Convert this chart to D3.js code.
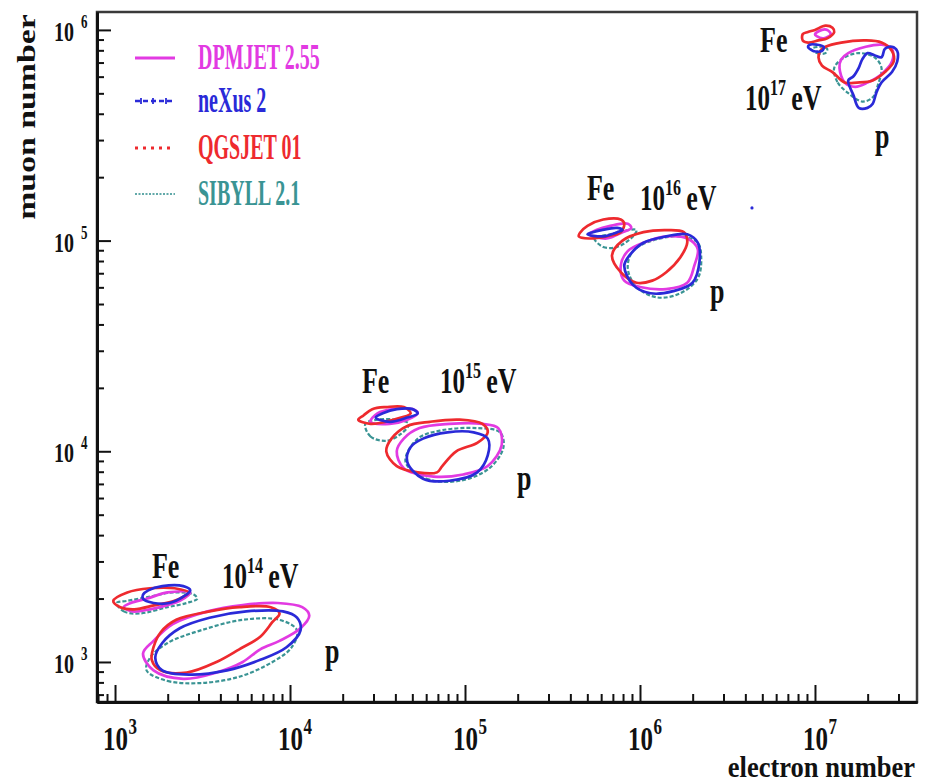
<!DOCTYPE html>
<html>
<head>
<meta charset="utf-8">
<script src="https://cdn.jsdelivr.net/npm/d3@7"></script>
<style>
  body { margin: 0; background: #fff; }
  svg { display: block; }
  text { font-family: "Liberation Serif", "Times New Roman", serif; font-weight: bold; }
</style>
</head>
<body>
<svg id="chart" width="931" height="781"></svg>
<script>
// Hadronic interaction models and their line colours
const models = ["DPMJET 2.55", "neXus 2", "QGSJET 01", "SIBYLL 2.1"];
const modelColors = ["#e23ae2", "#2a2ad8", "#ee2a2e", "#3a9494"];

// Contour points: [log10(electron number), log10(muon number)]
// 10^14 eV, proton
const p14_DPMJET = [[3.16,3.04],[3.22,2.96],[3.39,2.92],[3.58,2.95],[3.73,3.00],[3.83,3.06],[3.94,3.10],[4.06,3.16],[4.11,3.22],[4.07,3.26],[3.93,3.28],[3.73,3.27],[3.53,3.24],[3.33,3.18],[3.22,3.10]];
const p14_NEXUS  = [[3.23,3.02],[3.27,2.96],[3.43,2.94],[3.64,2.96],[3.83,3.01],[3.98,3.07],[4.06,3.15],[4.04,3.21],[3.96,3.24],[3.75,3.24],[3.54,3.21],[3.37,3.16],[3.27,3.09]];
const p14_QGSJET = [[3.22,3.07],[3.21,3.01],[3.26,2.96],[3.41,2.95],[3.58,3.00],[3.71,3.06],[3.83,3.12],[3.90,3.19],[3.94,3.23],[3.89,3.26],[3.71,3.26],[3.54,3.24],[3.35,3.20],[3.26,3.14]];
const p14_SIBYLL = [[3.18,2.96],[3.30,2.91],[3.49,2.90],[3.71,2.93],[3.90,3.00],[4.01,3.07],[4.04,3.15],[3.94,3.20],[3.73,3.20],[3.49,3.15],[3.30,3.09],[3.20,3.02]];
// 10^14 eV, iron
const fe14_DPMJET = [[3.05,3.26],[3.10,3.24],[3.20,3.25],[3.30,3.27],[3.37,3.29],[3.43,3.33],[3.30,3.33],[3.18,3.30],[3.09,3.28]];
const fe14_NEXUS  = [[3.16,3.30],[3.22,3.28],[3.31,3.28],[3.39,3.31],[3.43,3.34],[3.39,3.36],[3.27,3.36],[3.19,3.34],[3.16,3.32]];
const fe14_QGSJET = [[2.99,3.29],[3.03,3.26],[3.11,3.25],[3.23,3.27],[3.34,3.29],[3.42,3.33],[3.34,3.35],[3.20,3.35],[3.07,3.33]];
const fe14_SIBYLL = [[3.01,3.28],[3.05,3.24],[3.14,3.23],[3.30,3.26],[3.41,3.28],[3.47,3.30],[3.45,3.32],[3.33,3.33],[3.20,3.31],[3.07,3.29]];
// 10^15 eV, proton
const p15_DPMJET = [[4.61,4.00],[4.65,3.92],[4.82,3.88],[4.99,3.89],[5.13,3.93],[5.21,4.03],[5.19,4.11],[5.10,4.13],[4.91,4.13],[4.74,4.11],[4.65,4.06]];
const p15_NEXUS  = [[4.67,3.95],[4.76,3.87],[4.91,3.86],[5.07,3.90],[5.13,3.98],[5.13,4.06],[5.05,4.09],[4.90,4.09],[4.76,4.06],[4.69,4.02]];
const p15_QGSJET = [[4.55,4.00],[4.61,3.93],[4.73,3.90],[4.84,3.90],[4.87,3.93],[4.95,4.00],[5.07,4.04],[5.13,4.09],[5.10,4.13],[4.97,4.15],[4.80,4.14],[4.67,4.12],[4.58,4.06]];
const p15_SIBYLL = [[4.66,3.95],[4.78,3.87],[4.97,3.86],[5.14,3.92],[5.22,4.02],[5.20,4.09],[5.07,4.11],[4.87,4.10],[4.73,4.06]];
// 10^15 eV, iron
const fe15_DPMJET = [[4.46,4.14],[4.57,4.13],[4.67,4.15],[4.73,4.18],[4.70,4.20],[4.59,4.20],[4.50,4.18]];
const fe15_NEXUS  = [[4.49,4.16],[4.57,4.14],[4.67,4.16],[4.73,4.18],[4.70,4.20],[4.61,4.20],[4.53,4.18]];
const fe15_QGSJET = [[4.39,4.15],[4.46,4.13],[4.59,4.15],[4.69,4.18],[4.65,4.21],[4.55,4.21],[4.47,4.20],[4.42,4.17]];
const fe15_SIBYLL = [[4.43,4.13],[4.46,4.07],[4.55,4.05],[4.63,4.08],[4.68,4.13],[4.60,4.15],[4.50,4.15]];
// 10^16 eV, proton
const p16_DPMJET = [[5.89,4.88],[5.91,4.81],[6.00,4.78],[6.15,4.77],[6.27,4.80],[6.31,4.88],[6.33,4.96],[6.27,5.01],[6.15,5.02],[6.02,4.99],[5.93,4.95]];
const p16_NEXUS  = [[5.91,4.88],[5.96,4.79],[6.06,4.75],[6.19,4.76],[6.30,4.80],[6.34,4.90],[6.33,4.99],[6.27,5.03],[6.15,5.02],[6.02,4.99],[5.94,4.93]];
const p16_QGSJET = [[5.84,4.93],[5.89,4.85],[5.98,4.80],[6.07,4.81],[6.15,4.85],[6.23,4.92],[6.27,4.99],[6.25,5.04],[6.15,5.05],[6.02,5.04],[5.90,5.00]];
const p16_SIBYLL = [[5.93,4.87],[5.98,4.78],[6.10,4.73],[6.23,4.75],[6.33,4.82],[6.35,4.92],[6.33,4.99],[6.23,5.02],[6.07,5.00],[5.96,4.95]];
// 10^16 eV, iron
const fe16_DPMJET = [[5.71,5.03],[5.81,5.01],[5.90,5.04],[5.95,5.06],[5.93,5.08],[5.83,5.07],[5.75,5.05]];
const fe16_NEXUS  = [[5.70,5.03],[5.79,5.02],[5.87,5.04],[5.90,5.05],[5.87,5.06],[5.78,5.05],[5.73,5.04]];
const fe16_QGSJET = [[5.65,5.02],[5.71,5.01],[5.81,5.02],[5.89,5.04],[5.91,5.08],[5.89,5.10],[5.79,5.10],[5.70,5.07],[5.66,5.04]];
const fe16_SIBYLL = [[5.74,5.01],[5.79,4.97],[5.87,4.97],[5.96,5.02],[5.98,5.05],[5.93,5.05],[5.83,5.03]];
// 10^17 eV, proton
const p17_DPMJET = [[7.14,5.82],[7.17,5.75],[7.23,5.73],[7.30,5.75],[7.38,5.79],[7.44,5.85],[7.44,5.91],[7.38,5.93],[7.29,5.92],[7.19,5.89],[7.15,5.86]];
const p17_NEXUS  = [[7.19,5.76],[7.22,5.69],[7.25,5.63],[7.30,5.63],[7.33,5.65],[7.35,5.70],[7.38,5.75],[7.44,5.80],[7.47,5.85],[7.47,5.90],[7.44,5.92],[7.40,5.91],[7.38,5.87],[7.34,5.88],[7.30,5.89],[7.27,5.86],[7.25,5.82],[7.22,5.78]];
const p17_QGSJET = [[7.02,5.87],[7.04,5.83],[7.10,5.80],[7.17,5.75],[7.24,5.75],[7.33,5.76],[7.40,5.80],[7.45,5.85],[7.44,5.90],[7.38,5.94],[7.29,5.95],[7.15,5.94],[7.06,5.92],[7.03,5.90]];
const p17_SIBYLL = [[7.11,5.82],[7.13,5.75],[7.19,5.70],[7.27,5.66],[7.33,5.68],[7.36,5.74],[7.38,5.82],[7.34,5.87],[7.25,5.89],[7.17,5.87]];
// 10^17 eV, iron
const fe17_DPMJET = [[7.00,5.98],[7.01,5.97],[7.05,5.96],[7.09,5.98],[7.07,6.00],[7.04,6.00]];
const fe17_NEXUS  = [[6.96,5.92],[6.99,5.90],[7.04,5.90],[7.05,5.92],[7.01,5.93],[6.97,5.93]];
const fe17_QGSJET = [[6.93,5.95],[6.96,5.94],[7.02,5.95],[7.07,5.96],[7.11,5.99],[7.10,6.01],[7.06,6.02],[7.00,6.00],[6.96,5.99],[6.93,5.98]];
const fe17_SIBYLL = [[6.98,5.91],[7.01,5.89],[7.06,5.89],[7.07,5.91],[7.04,5.92]];
// isolated neXus point
const nexusStray = [[6.64, 5.155]];

// Annotation anchors in the same log10 units
const primaryLabels = [
  { text: "Fe", at: [3.211, 3.399] }, { text: "p", at: [4.20, 2.995] },
  { text: "Fe", at: [4.411, 4.277] }, { text: "p", at: [5.297, 3.816] },
  { text: "Fe", at: [5.697, 5.193] }, { text: "p", at: [6.40, 4.704] },
  { text: "Fe", at: [6.686, 5.895] }, { text: "p", at: [7.343, 5.44] }
];
const energyExponents = ["14", "15", "16", "17"];
const energyAnchors = [[3.611, 3.351], [4.857, 4.277], [6.0, 5.145], [6.60, 5.62]];

// Axis ticks
const xMajor = [1e3, 1e4, 1e5, 1e6, 1e7];
const yMajor = [1e3, 1e4, 1e5, 1e6];
const xTickExp = ["3", "4", "5", "6", "7"];
const yTickExp = ["3", "4", "5", "6"];

// Drawing order within each energy: SIBYLL, DPMJET, QGSJET, neXus (on top)
const contours = [
  [p14_SIBYLL, 3], [fe14_SIBYLL, 3], [p14_DPMJET, 0], [fe14_DPMJET, 0], [p14_QGSJET, 2], [fe14_QGSJET, 2], [p14_NEXUS, 1], [fe14_NEXUS, 1],
  [p15_SIBYLL, 3], [fe15_SIBYLL, 3], [p15_DPMJET, 0], [fe15_DPMJET, 0], [p15_QGSJET, 2], [fe15_QGSJET, 2], [p15_NEXUS, 1], [fe15_NEXUS, 1],
  [p16_SIBYLL, 3], [fe16_SIBYLL, 3], [p16_DPMJET, 0], [fe16_DPMJET, 0], [p16_QGSJET, 2], [fe16_QGSJET, 2], [p16_NEXUS, 1], [fe16_NEXUS, 1],
  [p17_SIBYLL, 3], [fe17_SIBYLL, 3], [p17_DPMJET, 0], [fe17_DPMJET, 0], [p17_QGSJET, 2], [fe17_QGSJET, 2], [p17_NEXUS, 1], [fe17_NEXUS, 1]
].map(([pts, m]) => ({ pts, m }));

const svg = d3.select("#chart");
const W = 931, H = 781;
const plot = { left: 97, top: 12, right: 917, bottom: 702 };

const x = d3.scaleLog().domain([10 ** 2.897, 10 ** 7.583]).range([plot.left, plot.right]);
const y = d3.scaleLog().domain([10 ** 2.810, 10 ** 6.085]).range([plot.bottom, plot.top]);
const px = d => x(10 ** d[0]);
const py = d => y(10 ** d[1]);

svg.append("rect").attr("width", W).attr("height", H).attr("fill", "#fff");

// Contours
const line = d3.line().x(px).y(py).curve(d3.curveCatmullRomClosed.alpha(0.5));
const dashes = [null, null, null, "4,2"];
const widths = [2.7, 2.7, 2.7, 2.2];
svg.append("g").selectAll("path").data(contours).join("path")
  .attr("d", d => line(d.pts))
  .attr("fill", "none")
  .attr("stroke", d => modelColors[d.m])
  .attr("stroke-width", d => widths[d.m])
  .attr("stroke-dasharray", d => dashes[d.m])
  .attr("stroke-linejoin", "round");

svg.append("g").selectAll("circle").data(nexusStray).join("circle")
  .attr("cx", px).attr("cy", py).attr("r", 1.6).attr("fill", modelColors[1]);

// Stretched serif text helper
function label(parent, tx, ty, sx, sy, size, anchor, str, fill) {
  const g = parent.append("g").attr("transform", `translate(${tx},${ty}) scale(${sx},${sy})`);
  const t = g.append("text").attr("font-size", size).attr("text-anchor", anchor || "start")
    .attr("fill", fill || "#111");
  if (str !== undefined) t.text(str);
  return t;
}

// Primary labels
primaryLabels.forEach(d => label(svg, px(d.at), py(d.at), 1, 1.4, 26, "start", d.text));

// Energy labels: 10^N eV
energyAnchors.forEach((a, i) => {
  const t = label(svg, px(a), py(a), 1, 1.4, 25, "start");
  t.append("tspan").text("10");
  t.append("tspan").attr("font-size", 16).attr("dy", -10.5).text(energyExponents[i]);
  t.append("tspan").attr("dy", 10.5).attr("font-size", 26).text("\u2009eV");
});

// Frame
svg.append("rect")
  .attr("x", plot.left).attr("y", plot.top)
  .attr("width", plot.right - plot.left).attr("height", plot.bottom - plot.top)
  .attr("fill", "none").attr("stroke", "#3a3a3a").attr("stroke-width", 2.5);

// Minor tick values for log axes
function minors(scale) {
  const [lo, hi] = scale.domain();
  const out = [];
  for (let k = 2; k <= 7; k++) for (let m = 2; m <= 9; m++) {
    const v = m * 10 ** k;
    if (v > lo && v < hi) out.push(v);
  }
  return out;
}

function styleAxis(g) {
  g.selectAll(".tick line").attr("stroke", "#111").attr("stroke-width", 2);
  g.selectAll(".tick text").remove();
  g.select(".domain").attr("stroke", "#111").attr("stroke-width", 2.8);
}

const gxMin = svg.append("g").attr("transform", `translate(0,${plot.bottom})`)
  .call(d3.axisBottom(x).tickValues(minors(x)).tickSize(-8).tickSizeOuter(0).tickFormat(""));
styleAxis(gxMin);
const gxMaj = svg.append("g").attr("transform", `translate(0,${plot.bottom})`)
  .call(d3.axisBottom(x).tickValues(xMajor).tickSize(-17).tickSizeOuter(0).tickFormat(""));
styleAxis(gxMaj);

const gyMin = svg.append("g").attr("transform", `translate(${plot.left},0)`)
  .call(d3.axisLeft(y).tickValues(minors(y)).tickSize(-7).tickSizeOuter(0).tickFormat(""));
styleAxis(gyMin);
const gyMaj = svg.append("g").attr("transform", `translate(${plot.left},0)`)
  .call(d3.axisLeft(y).tickValues(yMajor).tickSize(-14).tickSizeOuter(0).tickFormat(""));
styleAxis(gyMaj);

// Tick labels with superscript exponents
xMajor.forEach((v, i) => {
  label(svg, x(v) + 0.5, 750, 1, 1.35, 25, "middle", "10");
  label(svg, x(v) + 13.5, 734, 1, 1.35, 17, "start", xTickExp[i]);
});
yMajor.forEach((v, i) => {
  label(svg, 74, y(v) + 11, 1, 1.4, 20, "end", "10");
  label(svg, 81, y(v) - 2, 1, 1.4, 13, "start", yTickExp[i]);
});

// Axis titles
svg.append("g").attr("transform", "translate(35,117) rotate(-90) scale(1.3,1)")
  .append("text").attr("font-size", 26).attr("text-anchor", "middle").attr("fill", "#111").text("muon number");
label(svg, 915, 777, 1.02, 1.1, 26, "end", "electron number");

// Legend
const legendRows = [58, 101, 148, 194];
const lg = svg.append("g");
models.forEach((name, i) => {
  const yy = legendRows[i];
  const sample = lg.append("line").attr("x1", 135).attr("x2", 175).attr("y1", yy).attr("y2", yy)
    .attr("stroke", modelColors[i]);
  if (i === 0) sample.attr("stroke-width", 3);
  if (i === 1) {
    sample.attr("stroke-width", 2.5).attr("stroke-dasharray", "5,3");
    [141, 153, 166].forEach(cx => lg.append("line")
      .attr("x1", cx).attr("x2", cx).attr("y1", yy - 3).attr("y2", yy + 3)
      .attr("stroke", modelColors[1]).attr("stroke-width", 1.8));
  }
  if (i === 2) sample.attr("stroke-width", 3).attr("stroke-dasharray", "3,5");
  if (i === 3) sample.attr("stroke-width", 2).attr("stroke-dasharray", "2,1.5").attr("opacity", 0.8);
  label(lg, 198, yy + 11, 0.8, 1.4, 25, "start", name, modelColors[i]);
});
</script>
</body>
</html>
